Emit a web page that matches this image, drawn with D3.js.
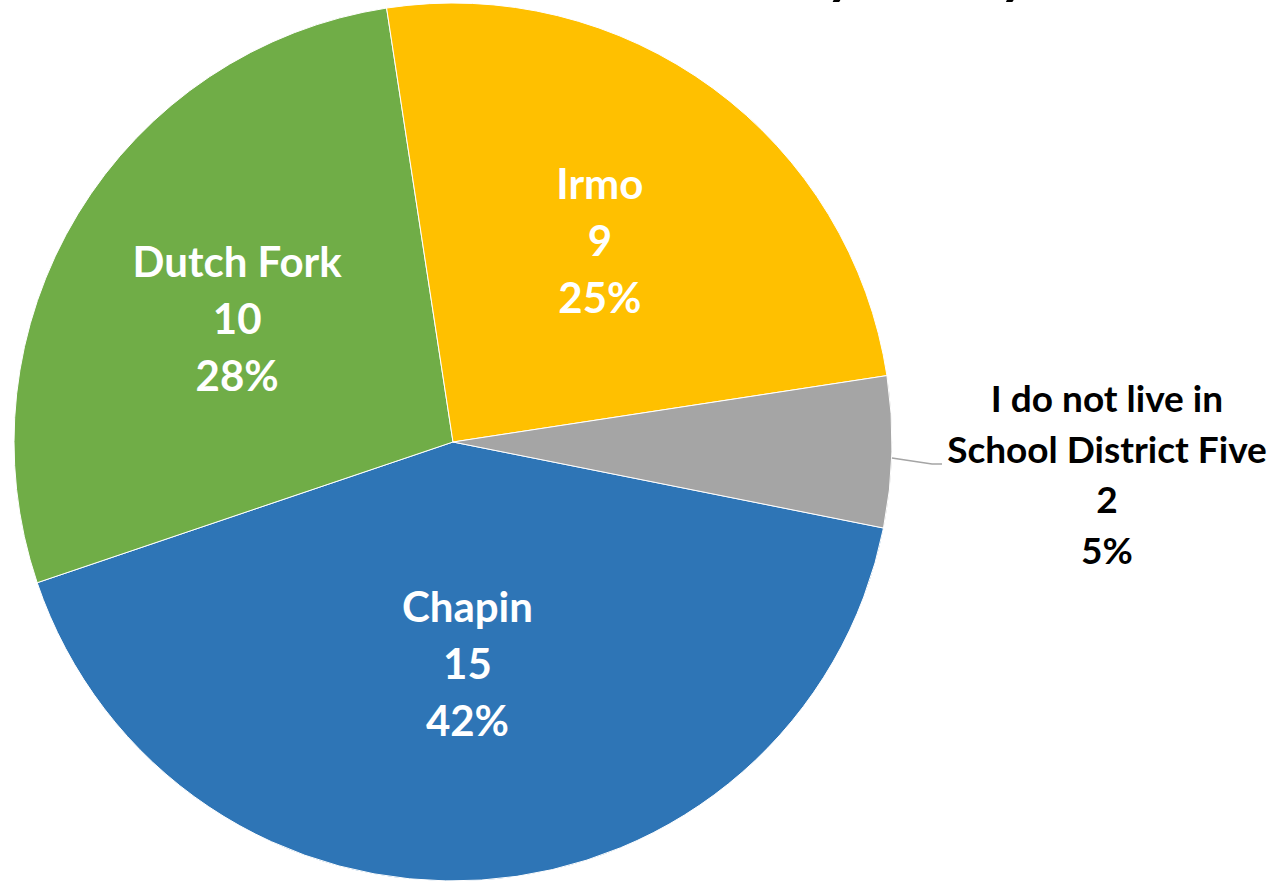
<!DOCTYPE html>
<html>
<head>
<meta charset="utf-8">
<script src="https://cdn.jsdelivr.net/npm/d3@7"></script>
<style>
  body { margin: 0; background: #fff; }
  svg { display: block; font-family: Lato, "Open Sans", sans-serif; font-weight: 700; }
</style>
</head>
<body>
<div id="chart"></div>
<script>
// pie of respondents by attendance area, labels show name / count / percent
const names = ["Chapin", "Dutch Fork", "Irmo", "I do not live in\nSchool District Five"];
const counts = [15, 10, 9, 2];
const percentLabels = ["42%", "28%", "25%", "5%"];
const colors = ["#2E75B6", "#70AD47", "#FFC000", "#A5A5A5"];
const titleText = "Attendance Area by Family";

const width = 1282;
const height = 882;
const cx = 453;
const cy = 442;
const radius = 439;
const startDeg = 101.3;

const svg = d3.select("#chart").append("svg")
    .attr("width", width)
    .attr("height", height)
    .attr("viewBox", [0, 0, width, height]);

// title sits mostly above the visible area, only descenders show
svg.append("text")
    .attr("x", 1029)
    .attr("y", -7)
    .attr("text-anchor", "end")
    .attr("font-size", 56)
    .attr("fill", "#000")
    .text(titleText);

const pie = d3.pie()
    .sort(null)
    .startAngle(startDeg * Math.PI / 180)
    .endAngle(startDeg * Math.PI / 180 + 2 * Math.PI);

const arcs = pie(counts);

const arc = d3.arc().innerRadius(0).outerRadius(radius);

const g = svg.append("g").attr("transform", `translate(${cx},${cy})`);

g.selectAll("path")
    .data(arcs)
    .join("path")
    .attr("d", arc)
    .attr("fill", (d, i) => colors[i])
    .attr("stroke", "#fff")
    .attr("stroke-width", 1);

// inside labels for the big slices (radius fraction, small angle nudge in degrees)
const labelPos = {
  "Chapin": [0.51, 0],
  "Dutch Fork": [0.565, -1.8],
  "Irmo": [0.565, 0]
};
const lineH = 57;

arcs.forEach((d, i) => {
  if (i === 3) return;
  const [fr, nudge] = labelPos[names[i]];
  const mid = (d.startAngle + d.endAngle) / 2 + nudge * Math.PI / 180;
  const lr = radius * fr;
  const x = Math.sin(mid) * lr;
  const y = -Math.cos(mid) * lr;
  const lines = [names[i], String(counts[i]), percentLabels[i]];
  const t = g.append("text")
      .attr("text-anchor", "middle")
      .attr("font-size", 42)
      .attr("fill", "#fff");
  lines.forEach((s, k) => {
    t.append("tspan")
        .attr("x", x)
        .attr("y", y + 14 + (k - 1) * lineH)
        .text(s);
  });
});

// outside label with leader line for the small slice
const small = arcs[3];
const smallMid = (small.startAngle + small.endAngle) / 2;
const p0 = [Math.sin(smallMid) * radius, -Math.cos(smallMid) * radius + 6];
const p1 = [radius + 40, 22];
const p2 = [radius + 50, 22];
g.append("polyline")
    .attr("points", [p0, p1, p2].map(p => p.join(",")).join(" "))
    .attr("fill", "none")
    .attr("stroke", "#A5A5A5")
    .attr("stroke-width", 1.5);

const outLines = names[3].split("\n").concat([String(counts[3]), percentLabels[3]]);
const outT = g.append("text")
    .attr("text-anchor", "middle")
    .attr("font-size", 37)
    .attr("fill", "#000");
outLines.forEach((s, k) => {
  outT.append("tspan")
      .attr("x", radius + 215)
      .attr("y", -30 + k * 50.5)
      .text(s);
});
</script>
</body>
</html>
